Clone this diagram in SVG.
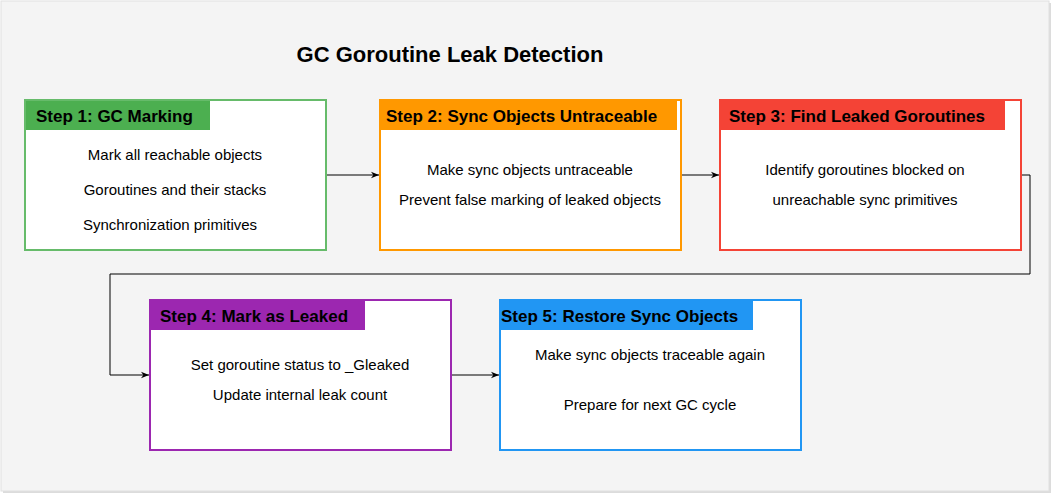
<svg xmlns="http://www.w3.org/2000/svg" width="1061" height="501" viewBox="0 0 1061 501">
<style>
text{font-family:"Liberation Sans",Arial,sans-serif;fill:#000}
.b{fill:#fff;stroke-width:2}
.h{font-weight:bold;font-size:17px}
.t{font-size:15px;text-anchor:middle}
.c{fill:none;stroke:#000;stroke-width:1}
</style>
<defs><marker id="a" viewBox="0 0 10 10" refX="10" refY="5" markerWidth="8" markerHeight="8" orient="auto"><path d="M0,1 L10,5 L0,9 L3,5 Z" fill="#000"/></marker></defs>
<rect width="1061" height="501" fill="#fff"/>
<rect x="3" y="3" width="1048" height="490" fill="#dcdcdc"/>
<rect x="1" y="1" width="1048" height="490" fill="#f4f4f4" stroke="#e0e0e0"/>
<text x="450" y="62" text-anchor="middle" font-weight="bold" font-size="22">GC Goroutine Leak Detection</text>
<g id="connectors">
<path class="c" d="M326,175 H379" marker-end="url(#a)"/>
<path class="c" d="M681,175 H719" marker-end="url(#a)"/>
<path class="c" d="M1021,175 H1030 V274 H110 V375 H149" marker-end="url(#a)"/>
<path class="c" d="M451,375 H499" marker-end="url(#a)"/>
</g>
<g id="step1"><rect class="b" x="25" y="100" width="301" height="150" stroke="#66bb6a"/><rect x="26" y="101" width="184" height="29" fill="#4caf50"/><text class="h" x="36" y="122">Step 1: GC Marking</text>
<text class="t" x="175" y="160">Mark all reachable objects</text><text class="t" x="175" y="195">Goroutines and their stacks</text><text class="t" x="170" y="230">Synchronization primitives</text></g>
<g id="step2"><rect class="b" x="380" y="100" width="301" height="150" stroke="#ff9800"/><rect x="381" y="101" width="296" height="29" fill="#ff9800"/><text class="h" x="386" y="122">Step 2: Sync Objects Untraceable</text>
<text class="t" x="530" y="175">Make sync objects untraceable</text><text class="t" x="530" y="205">Prevent false marking of leaked objects</text></g>
<g id="step3"><rect class="b" x="720" y="100" width="301" height="150" stroke="#f44336"/><rect x="721" y="101" width="284" height="29" fill="#f44336"/><text class="h" x="729" y="122">Step 3: Find Leaked Goroutines</text>
<text class="t" x="865" y="175">Identify goroutines blocked on</text><text class="t" x="865" y="205">unreachable sync primitives</text></g>
<g id="step4"><rect class="b" x="150" y="300" width="301" height="150" stroke="#9c27b0"/><rect x="151" y="301" width="214" height="29" fill="#9c27b0"/><text class="h" x="160" y="322">Step 4: Mark as Leaked</text>
<text class="t" x="300" y="370">Set goroutine status to _Gleaked</text><text class="t" x="300" y="400">Update internal leak count</text></g>
<g id="step5"><rect class="b" x="500" y="300" width="301" height="150" stroke="#2196f3"/><rect x="501" y="301" width="252" height="29" fill="#2196f3"/><text class="h" x="501" y="322">Step 5: Restore Sync Objects</text>
<text class="t" x="650" y="360">Make sync objects traceable again</text><text class="t" x="650" y="410">Prepare for next GC cycle</text></g>
</svg>
